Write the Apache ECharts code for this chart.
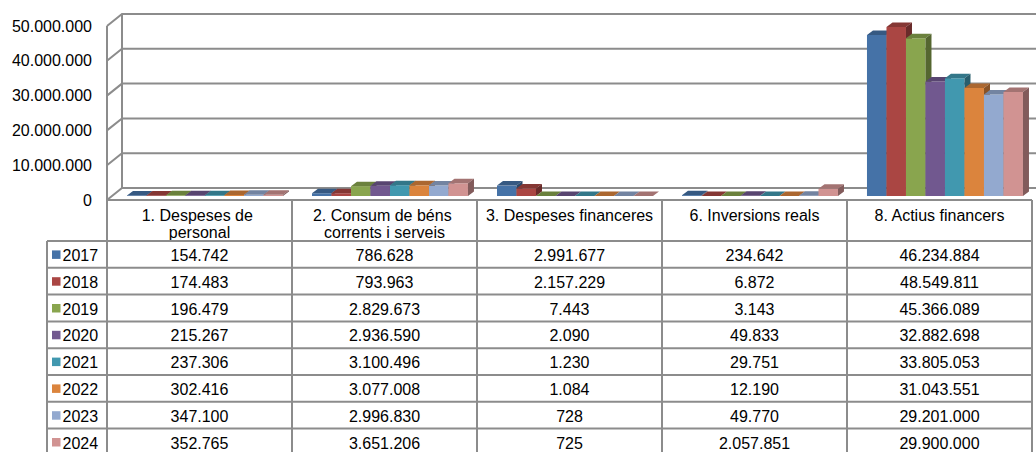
<!DOCTYPE html>
<html>
<head>
<meta charset="utf-8">
<script src="https://cdn.jsdelivr.net/npm/echarts@6/dist/echarts.min.js"></script>
<style>
html,body{margin:0;padding:0;background:#fff;}
#chart{width:1036px;height:452px;}
</style>
</head>
<body>
<div id="chart"></div>
<script>
// ---- data ----
var categories = ['1. Despeses de personal', '2. Consum de béns corrents i serveis', '3. Despeses financeres', '6. Inversions reals', '8. Actius financers'];
var years = ['2017', '2018', '2019', '2020', '2021', '2022', '2023', '2024'];
var v2017 = [154742, 786628, 2991677, 234642, 46234884];
var v2018 = [174483, 793963, 2157229, 6872, 48549811];
var v2019 = [196479, 2829673, 7443, 3143, 45366089];
var v2020 = [215267, 2936590, 2090, 49833, 32882698];
var v2021 = [237306, 3100496, 1230, 29751, 33805053];
var v2022 = [302416, 3077008, 1084, 12190, 31043551];
var v2023 = [347100, 2996830, 728, 49770, 29201000];
var v2024 = [352765, 3651206, 725, 2057851, 29900000];
var yTicks = [0, 10000000, 20000000, 30000000, 40000000, 50000000];
var colors = ['#4572A7', '#AA4643', '#89A54E', '#71588F', '#4198AF', '#DB843D', '#93A9CF', '#D19392'];

var seriesValues = [v2017, v2018, v2019, v2020, v2021, v2022, v2023, v2024];

var FONT = '16px "Liberation Sans", Arial, sans-serif';
var LINE = '#8c8c8c';
var WALL_DX = 15, WALL_DY = 12;
var BAR_DX = 6, BAR_DY = 4.5, BAR_LIFT = 4;
var HEADER_H = 41, ROW_H = 26.8, LEG_W = 60;

function fmt(n) { return String(n).replace(/\B(?=(\d{3})+(?!\d))/g, '.'); }

function shade(hex, f) {
  var r = parseInt(hex.substr(1, 2), 16), g = parseInt(hex.substr(3, 2), 16), b = parseInt(hex.substr(5, 2), 16);
  return 'rgb(' + Math.round(r * f) + ',' + Math.round(g * f) + ',' + Math.round(b * f) + ')';
}

// walls + table frame
function renderFrame(params, api) {
  var cs = params.coordSys;
  var L = cs.x, R = cs.x + cs.width;
  var band = api.size([1, 0])[0];
  var y0 = api.coord([0, 0])[1];
  var yMax = api.coord([0, yTicks[yTicks.length - 1]])[1];
  var children = [];
  var st = { stroke: LINE, lineWidth: 2, fill: null };
  yTicks.forEach(function (t) {
    var y = api.coord([0, t])[1];
    children.push({ type: 'polyline', shape: { points: [[L, y], [L + WALL_DX, y - WALL_DY], [R + 10, y - WALL_DY]] }, style: st });
  });
  children.push({ type: 'line', shape: { x1: L, y1: yMax, x2: L, y2: y0 }, style: st });
  children.push({ type: 'line', shape: { x1: L + WALL_DX, y1: yMax - WALL_DY, x2: L + WALL_DX, y2: y0 - WALL_DY }, style: st });
  // table
  var bottom = y0 + HEADER_H + ROW_H * years.length + 5;
  children.push({ type: 'line', shape: { x1: L, y1: y0, x2: R, y2: y0 }, style: st });
  for (var k = 0; k <= categories.length; k++) {
    var x = L + band * k;
    children.push({ type: 'line', shape: { x1: x, y1: y0, x2: x, y2: bottom }, style: st });
  }
  children.push({ type: 'line', shape: { x1: L - LEG_W, y1: y0 + HEADER_H, x2: L - LEG_W, y2: bottom }, style: st });
  for (var r = 0; r <= years.length; r++) {
    var yy = y0 + HEADER_H + ROW_H * r;
    children.push({ type: 'line', shape: { x1: L - LEG_W, y1: yy, x2: R, y2: yy }, style: st });
  }
  return { type: 'group', children: children };
}

function makeBarRender(idx) {
  return function (params, api) {
    var cat = api.value(0), val = api.value(1);
    var band = api.size([1, 0])[0];
    var cx = api.coord([cat, 0])[0];
    var start = cx - band / 2;
    var bw = band * 0.1054;
    var x = start + band * 0.108 + idx * bw;
    var yb = api.coord([cat, 0])[1] - BAR_LIFT;
    var yt = api.coord([cat, val])[1] - BAR_LIFT;
    var c = colors[idx];
    return {
      type: 'group',
      children: [
        { type: 'rect', shape: { x: x, y: yt, width: bw, height: yb - yt }, style: { fill: c } },
        { type: 'polygon', shape: { points: [[x, yt], [x + BAR_DX, yt - BAR_DY], [x + bw + BAR_DX, yt - BAR_DY], [x + bw, yt]] }, style: { fill: shade(c, 0.78) } },
        { type: 'polygon', shape: { points: [[x + bw, yt], [x + bw + BAR_DX, yt - BAR_DY], [x + bw + BAR_DX, yb - BAR_DY], [x + bw, yb]] }, style: { fill: shade(c, 0.62) } }
      ]
    };
  };
}

function renderCell(params, api) {
  var cat = api.value(0), yi = api.value(1), val = api.value(2);
  var x = api.coord([cat, 0])[0];
  var y0 = api.coord([cat, 0])[1];
  var y = y0 + HEADER_H + ROW_H * (yi + 0.5);
  return { type: 'text', style: { text: fmt(val), x: x, y: y + 1, align: 'center', verticalAlign: 'middle', font: FONT, fill: '#000' } };
}

function renderLegendCell(params, api) {
  var yi = api.value(0);
  var cs = params.coordSys;
  var y0 = api.coord([0, 0])[1];
  var y = y0 + HEADER_H + ROW_H * (yi + 0.5);
  var lx = cs.x - LEG_W;
  return {
    type: 'group',
    children: [
      { type: 'rect', shape: { x: lx + 5, y: y - 4, width: 8.5, height: 8.5 }, style: { fill: colors[yi] } },
      { type: 'text', style: { text: years[yi], x: lx + 15.5, y: y + 1, align: 'left', verticalAlign: 'middle', font: FONT, fill: '#000' } }
    ]
  };
}

var series = [];
series.push({ type: 'custom', name: 'frame', renderItem: renderFrame, data: [[0, 0]], clip: false, silent: true, z: 1 });
seriesValues.forEach(function (arr, i) {
  series.push({
    type: 'custom', name: years[i], clip: false, z: 2,
    renderItem: makeBarRender(i),
    data: arr.map(function (v, c) { return [c, v]; })
  });
});
var cells = [];
seriesValues.forEach(function (arr, i) { arr.forEach(function (v, c) { cells.push([c, i, v]); }); });
series.push({ type: 'custom', name: 'table', renderItem: renderCell, data: cells, clip: false, silent: true, z: 3, encode: { x: 0, y: 1 } });
series.push({ type: 'custom', name: 'legendcol', renderItem: renderLegendCell, data: years.map(function (y, i) { return [i]; }), clip: false, silent: true, z: 3 });

var chart = echarts.init(document.getElementById('chart'), null, { renderer: 'svg' });
chart.setOption({
  animation: false,
  backgroundColor: '#fff',
  grid: { left: 107, right: 4, top: 26, bottom: 252, containLabel: false },
  xAxis: {
    type: 'category', data: categories,
    axisLine: { show: false }, axisTick: { show: false }, splitLine: { show: false },
    axisLabel: { interval: 0, margin: 7, width: 172, overflow: 'break', lineHeight: 17, fontSize: 16, fontFamily: '"Liberation Sans", Arial, sans-serif', color: '#000' }
  },
  yAxis: {
    type: 'value', min: 0, max: 50000000, interval: 10000000,
    axisLine: { show: false }, axisTick: { show: false }, splitLine: { show: false },
    axisLabel: { margin: 15, padding: [5, 0, 0, 0], fontSize: 16, fontFamily: '"Liberation Sans", Arial, sans-serif', color: '#000', formatter: function (v) { return fmt(v); } }
  },
  tooltip: { show: false },
  series: series
});
</script>
</body>
</html>
